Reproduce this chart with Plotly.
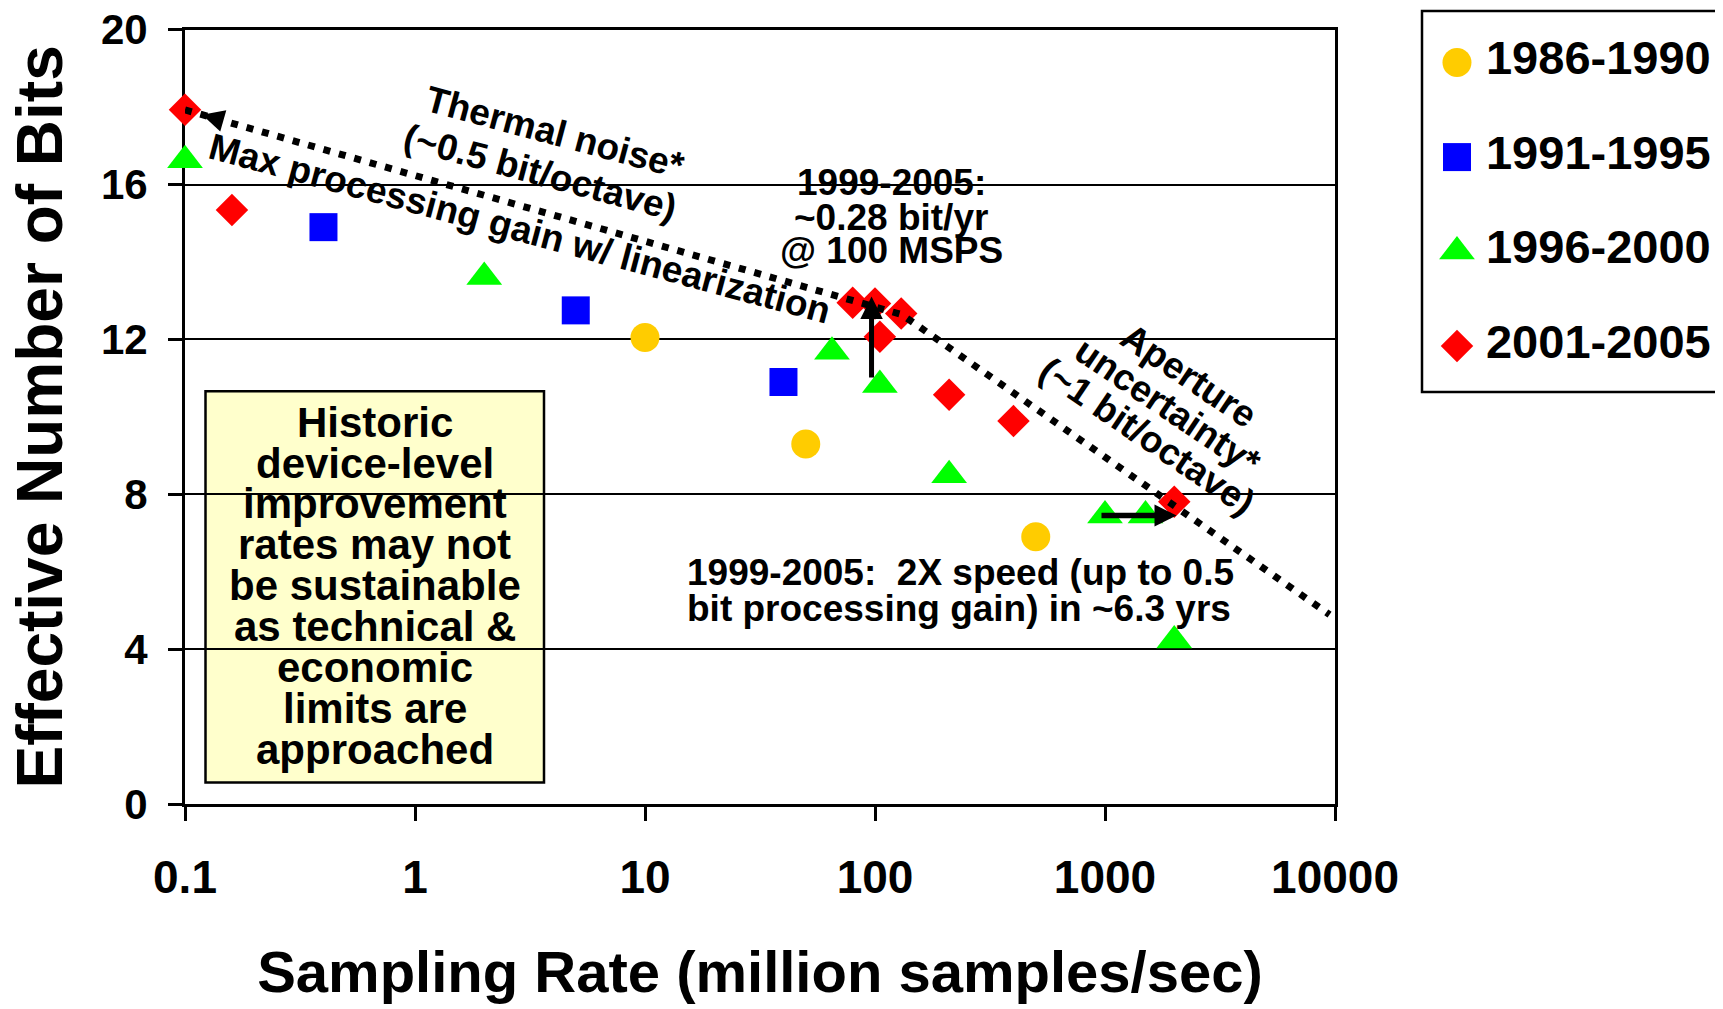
import math
import plotly.graph_objects as go

# ---------------- data ----------------
series_names = ["1986-1990", "1991-1995", "1996-2000", "2001-2005"]

x_1986 = [10, 50, 500]
y_1986 = [12.05, 9.3, 6.9]

x_1991 = [0.4, 5, 40]
y_1991 = [14.9, 12.75, 10.9]

x_1996 = [0.1, 2, 65, 105, 210, 1000, 1500, 2000]
y_1996 = [16.63, 13.61, 11.68, 10.82, 8.49, 7.45, 7.45, 4.22]

x_2001 = [0.1, 0.16, 80, 100, 105, 130, 210, 400, 2000]
y_2001 = [17.93, 15.34, 12.95, 12.93, 12.07, 12.67, 10.57, 9.89, 7.81]

# dotted limit line: thermal noise (~0.5 bit/octave) then aperture uncertainty
trend_x = [0.1, 131, 9470]
trend_y = [17.93, 12.64, 4.89]

x_tick_vals = [0.1, 1, 10, 100, 1000, 10000]
x_tick_text = ["0.1", "1", "10", "100", "1000", "10000"]
y_tick_vals = [0, 4, 8, 12, 16, 20]

x_title = "Sampling Rate (million samples/sec)"
y_title = "Effective Number of Bits"

# ---------------- layout constants (page pixels; page has an 8px body margin) ----------------
BODY = 8
FIG_W, FIG_H = 1723 - BODY, 1009 - BODY
PLOT_LEFT, PLOT_RIGHT, PLOT_TOP, PLOT_BOTTOM = 185, 1335, 29.7, 804   # page px
M_L = PLOT_LEFT - BODY
M_R = 0
M_T = 0
M_B = FIG_H - (PLOT_BOTTOM - BODY)
PW = FIG_W - M_L - M_R
PH = FIG_H - M_T - M_B

BOLD = "Liberation Sans, Arial, sans-serif"


def paper(px, py):
    """page pixel -> paper coordinates"""
    return (px - PLOT_LEFT) / PW, (PLOT_BOTTOM - py) / PH


def rot_rect_path(cx, cy, a, b, deg):
    t = math.radians(deg)
    c, s = math.cos(t), math.sin(t)
    pts = []
    for u, v in [(-a, -b), (a, -b), (a, b), (-a, b)]:
        pts.append(paper(cx + u * c - v * s, cy + u * s + v * c))
    return "M " + " L ".join(f"{x:.5f},{y:.5f}" for x, y in pts) + " Z"


def shape_layer():
    try:
        go.layout.Shape(layer="between")
        return "between"
    except ValueError:
        return "below"


BG_LAYER = shape_layer()

styles = [
    dict(symbol="circle", size=29, color="#FFCC00"),
    dict(symbol="square", size=28, color="#0000FF"),
    dict(symbol="triangle-up", size=31, color="#00FF00"),
    dict(symbol="diamond", size=25, color="#FF0000"),
]
xs_all = [x_1986, x_1991, x_1996, x_2001]
ys_all = [y_1986, y_1991, y_1996, y_2001]

fig = go.Figure()

for name, xs, ys, st in zip(series_names, xs_all, ys_all, styles):
    fig.add_trace(go.Scatter(
        x=xs, y=ys, mode="markers", name=name,
        marker=dict(symbol=st["symbol"], size=st["size"], color=st["color"], line=dict(width=0)),
        cliponaxis=False, showlegend=False,
    ))

fig.add_trace(go.Scatter(
    x=trend_x, y=trend_y, mode="lines", name="limit",
    line=dict(color="black", width=7, dash="7px,9px"),
    cliponaxis=False, showlegend=False, hoverinfo="skip",
))

# ---------------- custom legend (large swatches) ----------------
for i, (name, st) in enumerate(zip(series_names, styles)):
    fig.add_trace(go.Scatter(
        x=[0.117], y=[i], xaxis="x2", yaxis="y2", mode="markers",
        marker=dict(symbol=st["symbol"], size=st["size"], color=st["color"], line=dict(width=0)),
        showlegend=False, hoverinfo="skip", cliponaxis=False,
    ))
fig.add_trace(go.Scatter(
    x=[0.214] * len(series_names), y=list(range(len(series_names))),
    xaxis="x2", yaxis="y2", mode="text", text=series_names,
    textposition="middle right",
    textfont=dict(family=BOLD, size=47, color="black", weight="bold"),
    showlegend=False, hoverinfo="skip", cliponaxis=False,
))

# ---------------- shapes ----------------
shapes = []
lx0, ly1 = paper(1422, 11)
lx1, ly0 = paper(1721, 392)
shapes.append(dict(type="rect", xref="paper", yref="paper", x0=lx0, x1=lx1, y0=ly0, y1=ly1,
                   line=dict(color="black", width=2.5), fillcolor="rgba(0,0,0,0)", layer="above"))
hx0, hy1 = paper(205.5, 391.2)
hx1, hy0 = paper(544, 782.4)
shapes.append(dict(type="rect", xref="paper", yref="paper", x0=hx0, x1=hx1, y0=hy0, y1=hy1,
                   line=dict(color="black", width=2.5), fillcolor="#FFFFCC", layer=BG_LAYER))
tx0, ty1 = paper(758, 160)
tx1, ty0 = paper(1027, 272)
shapes.append(dict(type="rect", xref="paper", yref="paper", x0=tx0, x1=tx1, y0=ty0, y1=ty1,
                   line=dict(width=0), fillcolor="white", layer=BG_LAYER))
shapes.append(dict(type="path", xref="paper", yref="paper",
                   path=rot_rect_path(547.5, 152.5, 160, 50, 15),
                   line=dict(width=0), fillcolor="white", layer=BG_LAYER))
shapes.append(dict(type="path", xref="paper", yref="paper",
                   path=rot_rect_path(1162, 415, 152, 72, 34),
                   line=dict(width=0), fillcolor="white", layer=BG_LAYER))

# ---------------- annotations ----------------
ann = []


def text_at(px, py, text, size=37, angle=0, xanchor="center"):
    x, y = paper(px, py)
    ann.append(dict(xref="paper", yref="paper", x=x, y=y, text=text, showarrow=False,
                    textangle=angle, xanchor=xanchor, yanchor="middle",
                    font=dict(family=BOLD, size=size, color="black", weight="bold")))


# y-axis title (annotation so it can sit closer to the page edge, as in the reference)
text_at(39.5, 417, y_title, size=64, angle=-90)

text_at(555, 133, "Thermal noise*", angle=15)
text_at(540, 172, "(~0.5 bit/octave)", angle=15)
text_at(519, 229, "Max processing gain w/ linearization", angle=15)
text_at(891, 183, "1999-2005:")
text_at(891, 217, "~0.28 bit/yr")
text_at(891, 250, "@ 100 MSPS")
text_at(1188.7, 375.3, "Aperture", angle=34)
text_at(1168, 406, "uncertainty*", angle=34)
text_at(1147.3, 436.7, "(~1 bit/octave)", angle=34)
text_at(684.5, 572.6, "1999-2005:&nbsp; 2X speed (up to 0.5", xanchor="left")
text_at(684.5, 608, "bit processing gain) in ~6.3 yrs", xanchor="left")

historic_lines = ["Historic", "device-level", "improvement", "rates may not", "be sustainable",
                  "as technical &amp;", "economic", "limits are", "approached"]
for i, line in enumerate(historic_lines):
    text_at(374.5, 585.7 + (i - 4) * 40.9, line, size=42)

# arrows (data coordinates; log axis uses log10 units)
ann.append(dict(xref="x", yref="y", axref="x", ayref="y",
                x=math.log10(96.6), y=13.11, ax=math.log10(96.6), ay=10.98,
                text="", showarrow=True, arrowhead=2, arrowwidth=5, arrowsize=0.9,
                arrowcolor="black", standoff=0, startstandoff=0))
ann.append(dict(xref="x", yref="y", axref="x", ayref="y",
                x=math.log10(2046), y=7.45, ax=math.log10(951), ay=7.45,
                text="", showarrow=True, arrowhead=2, arrowwidth=5.5, arrowsize=0.8,
                arrowcolor="black", standoff=0, startstandoff=0))
ann.append(dict(xref="x", yref="y",
                x=math.log10(0.1187), y=17.80, ax=22, ay=6.3,
                text="", showarrow=True, arrowhead=2, arrowwidth=2, arrowsize=2.2,
                arrowcolor="black", standoff=0, startstandoff=0))

fig.update_layout(
    width=FIG_W, height=FIG_H,
    margin=dict(l=M_L, r=M_R, t=M_T, b=M_B, autoexpand=False),
    paper_bgcolor="white", plot_bgcolor="white",
    showlegend=False,
    xaxis=dict(
        type="log", range=[-1, 4], domain=[0, (PLOT_RIGHT - PLOT_LEFT) / PW],
        tickmode="array", tickvals=x_tick_vals, ticktext=x_tick_text,
        ticks="outside", ticklen=14, tickwidth=2.5, tickcolor="black",
        showline=True, linecolor="black", linewidth=3, mirror=True,
        showgrid=False, zeroline=False, automargin=False, layer="below traces",
        tickfont=dict(family=BOLD, size=46, color="black", weight="bold"),
        ticklabelstandoff=17, ticklabeloverflow="allow",
        title=dict(text=x_title, standoff=50,
                   font=dict(family=BOLD, size=58, color="black", weight="bold")),
        anchor="y",
    ),
    yaxis=dict(
        range=[0, 20], domain=[0, (PLOT_BOTTOM - PLOT_TOP) / PH],
        tickmode="array", tickvals=y_tick_vals,
        ticks="outside", ticklen=14, tickwidth=2.5, tickcolor="black",
        showline=True, linecolor="black", linewidth=3, mirror=True,
        showgrid=True, gridcolor="black", gridwidth=2, zeroline=False,
        automargin=False, layer="below traces",
        tickfont=dict(family=BOLD, size=42, color="black", weight="bold"),
        ticklabelstandoff=12, ticklabeloverflow="allow",
        anchor="x",
    ),
    xaxis2=dict(domain=[paper(1422, 0)[0], paper(1721, 0)[0]], range=[0, 1], visible=False,
                anchor="y2", fixedrange=True),
    yaxis2=dict(domain=[paper(0, 392)[1], paper(0, 11)[1]], range=[3.486, -0.546], visible=False,
                anchor="x2", fixedrange=True),
    shapes=shapes,
    annotations=ann,
)

fig.write_html("out.html")
